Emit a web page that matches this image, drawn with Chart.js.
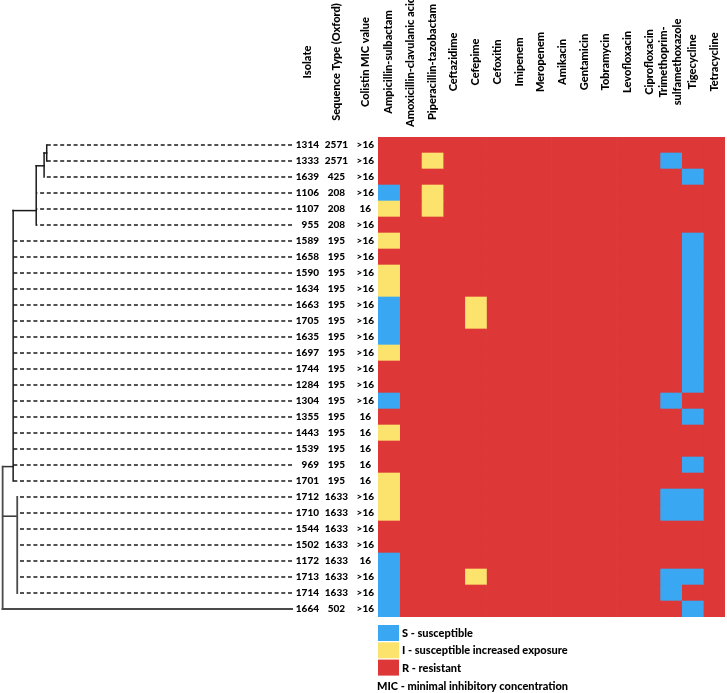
<!DOCTYPE html>
<html>
<head>
<meta charset="utf-8">
<script src="https://cdn.jsdelivr.net/npm/chart.js@4.4.1/dist/chart.umd.min.js"></script>
<style>
  html, body { margin: 0; padding: 0; background: #fff; }
  #wrap { position: relative; width: 727px; height: 693px; }
  #wrap canvas { position: absolute; left: 0; top: 0; }
</style>
</head>
<body>
<div id="wrap">
  <canvas id="heat" width="727" height="693"></canvas>
  <canvas id="tree" width="296" height="693"></canvas>
</div>
<script>
var isolates = ['1314', '1333', '1639', '1106', '1107', '955', '1589', '1658', '1590', '1634',
  '1663', '1705', '1635', '1697', '1744', '1284', '1304', '1355', '1443', '1539',
  '969', '1701', '1712', '1710', '1544', '1502', '1172', '1713', '1714', '1664'];
var sequenceTypes = ['2571', '2571', '425', '208', '208', '208', '195', '195', '195', '195',
  '195', '195', '195', '195', '195', '195', '195', '195', '195', '195',
  '195', '195', '1633', '1633', '1633', '1633', '1633', '1633', '1633', '502'];
var colistinMic = ['>16', '>16', '>16', '>16', '16', '>16', '>16', '>16', '>16', '>16',
  '>16', '>16', '>16', '>16', '>16', '>16', '>16', '16', '16', '16',
  '16', '16', '>16', '>16', '>16', '>16', '16', '>16', '>16', '>16'];
var columnTitles = ['Isolate', 'Sequence Type (Oxford)', 'Colistin MIC value'];
var antibiotics = ['Ampicillin-sulbactam', 'Amoxicillin-clavulanic acid', 'Piperacillin-tazobactam',
  'Ceftazidime', 'Cefepime', 'Cefoxitin', 'Imipenem', 'Meropenem', 'Amikacin', 'Gentamicin',
  'Tobramycin', 'Levofloxacin', 'Ciprofloxacin', ['Trimethoprim-', 'sulfamethoxazole'],
  'Tigecycline', 'Tetracycline'];

// one string per isolate, one letter per antibiotic (same order as above)
var profiles = [
  'RRRR RRRR RRRR RRRR', 'RRIR RRRR RRRR RSRR', 'RRRR RRRR RRRR RRSR', 'SRIR RRRR RRRR RRRR',
  'IRIR RRRR RRRR RRRR', 'RRRR RRRR RRRR RRRR', 'IRRR RRRR RRRR RRSR', 'RRRR RRRR RRRR RRSR',
  'IRRR RRRR RRRR RRSR', 'IRRR RRRR RRRR RRSR', 'SRRR IRRR RRRR RRSR', 'SRRR IRRR RRRR RRSR',
  'SRRR RRRR RRRR RRSR', 'IRRR RRRR RRRR RRSR', 'RRRR RRRR RRRR RRSR', 'RRRR RRRR RRRR RRSR',
  'SRRR RRRR RRRR RSRR', 'RRRR RRRR RRRR RRSR', 'IRRR RRRR RRRR RRRR', 'RRRR RRRR RRRR RRRR',
  'RRRR RRRR RRRR RRSR', 'IRRR RRRR RRRR RRRR', 'IRRR RRRR RRRR RSSR', 'IRRR RRRR RRRR RSSR',
  'RRRR RRRR RRRR RRRR', 'RRRR RRRR RRRR RRRR', 'SRRR RRRR RRRR RRRR', 'SRRR IRRR RRRR RSSR',
  'SRRR RRRR RRRR RSRR', 'SRRR RRRR RRRR RRSR'
].map(function (p) { return p.replace(/ /g, ''); });

var levels = ['S', 'I', 'R'];
var levelNames = ['S - susceptible', 'I - susceptible increased exposure', 'R - resistant'];
var levelColors = ['#39a7f2', '#fbe36d', '#dd3737'];
var footnote = 'MIC - minimal inhibitory concentration';

// dendrogram: height = linkage distance (0 at the leaf tips), kids = rows or node ids,
// joint = row at which the node's branch meets its parent
var treeNodes = [
  { id: 'n1', height: 0.840, kids: [0, 1], joint: 0.5 },
  { id: 'n2', height: 0.849, kids: ['n1', 2], joint: 1.3 },
  { id: 'n3', height: 0.876, kids: ['n2', 3, 4, 5], joint: 4.1 },
  { id: 'n4', height: 0.955, kids: ['n3', 6, 7, 8, 9, 10, 11, 12, 13, 14, 15, 16, 17, 18, 19, 20, 21], joint: 20.1 },
  { id: 'n5', height: 0.941, kids: [22, 23, 24, 25, 26, 27, 28], joint: 23.2 },
  { id: 'root', height: 0.991, kids: ['n4', 'n5', 29], joint: null }
];

var INK = '#000';
Chart.defaults.font.family = 'Lato';
Chart.defaults.color = INK;

var textFont = { family: 'Lato', size: 10, weight: 900 };

function colorOf(letter) {
  return levelColors[levels.indexOf(letter)];
}

var heatSets = antibiotics.map(function (name, c) {
  return {
    label: Array.isArray(name) ? name.join(' ') : name,
    data: isolates.map(function () { return [c, c + 1]; }),
    backgroundColor: profiles.map(function (p) { return colorOf(p[c]); }),
    borderWidth: 0,
    barPercentage: 1,
    categoryPercentage: 1,
    grouped: false
  };
});

function labelAxis(labels, weight, width, align) {
  return {
    type: 'category',
    labels: labels,
    position: 'left',
    offset: true,
    weight: weight,
    grid: { display: false, drawTicks: false },
    border: { display: false },
    ticks: { font: textFont, color: INK, padding: 4, autoSkip: false, crossAlign: align },
    afterFit: function (scale) { scale.width = width; }
  };
}

var headerPlugin = {
  id: 'headers',
  afterDraw: function (chart) {
    var ctx = chart.ctx;
    var area = chart.chartArea;
    var mid = area.top - 75;
    ctx.save();
    ctx.fillStyle = INK;

    // centres of the three text columns
    ctx.font = '900 10px Lato';
    var cols = [[chart.scales.y, isolates], [chart.scales.ySt, sequenceTypes], [chart.scales.yMic, colistinMic]];
    var centers = cols.map(function (c) {
      var w = Math.max.apply(null, c[1].map(function (t) { return ctx.measureText(t).width; }));
      return c[0].right - c[0].options.ticks.padding - w / 2;
    });

    ctx.font = '900 11px Lato';
    ctx.textAlign = 'center';
    ctx.textBaseline = 'middle';
    function vertical(lines, x) {
      ctx.save();
      ctx.translate(x, mid);
      ctx.rotate(-Math.PI / 2);
      lines.forEach(function (t, i) {
        ctx.fillText(t, 0, (i - (lines.length - 1) / 2) * 14);
      });
      ctx.restore();
    }
    columnTitles.forEach(function (t, i) { vertical([t], centers[i]); });
    antibiotics.forEach(function (name, c) {
      vertical(Array.isArray(name) ? name : [name], chart.scales.x.getPixelForValue(c + 0.5));
    });

    // legend
    var top = area.bottom + 8;
    ctx.textAlign = 'left';
    levels.forEach(function (l, i) {
      var y = top + i * 17.3;
      ctx.fillStyle = levelColors[i];
      ctx.fillRect(area.left, y, 21, 16);
      ctx.fillStyle = INK;
      ctx.fillText(levelNames[i], area.left + 24, y + 8.5);
    });
    ctx.fillText(footnote, area.left - 1, top + 3 * 17.3 + 10);
    ctx.restore();
  }
};

new Chart(document.getElementById('heat'), {
  type: 'bar',
  data: { labels: isolates, datasets: heatSets },
  options: {
    indexAxis: 'y',
    responsive: false,
    animation: false,
    layout: { padding: { top: 137, bottom: 76, left: 0, right: 2 } },
    plugins: { legend: { display: false }, tooltip: { enabled: false } },
    scales: {
      x: { type: 'linear', min: 0, max: antibiotics.length, display: false },
      y: labelAxis(isolates, 3, 323, 'near'),
      ySt: labelAxis(sequenceTypes, 2, 29, 'center'),
      yMic: labelAxis(colistinMic, 1, 26, 'center')
    }
  },
  plugins: [headerPlugin]
});

// dendrogram segments
var nodeById = {};
treeNodes.forEach(function (n) { nodeById[n.id] = n; });
function kidRow(k) { return typeof k === 'number' ? k : nodeById[k].joint; }

var treeSets = [];
function segment(x0, y0, x1, y1, style) {
  treeSets.push(Object.assign({
    data: [{ x: x0, y: y0 }, { x: x1, y: y1 }],
    showLine: true,
    pointRadius: 0,
    clip: false,
    borderColor: '#1a1a1a',
    borderWidth: 1.5,
    borderCapStyle: 'square'
  }, style));
}

treeNodes.forEach(function (n) {
  var rows = n.kids.map(kidRow);
  var isRoot = n.joint === null;
  var solidStyle = isRoot || n.id === 'n5' ? { borderColor: '#4a4a4a', borderWidth: 1.8 } : {};
  segment(n.height, Math.min.apply(null, rows), n.height, Math.max.apply(null, rows), solidStyle);
  n.kids.forEach(function (k) {
    if (typeof k === 'number') {
      if (isRoot) {
        segment(0, k, n.height, k, { borderColor: '#4a4a4a', borderWidth: 2 });
      } else {
        segment(0, k, n.height, k, { borderColor: '#1a1a1a', borderWidth: 1.3, borderDash: [4, 2.7], borderCapStyle: 'butt' });
      }
    } else {
      segment(n.height, nodeById[k].joint, nodeById[k].height, nodeById[k].joint, isRoot ? { borderColor: '#333' } : {});
    }
  });
});

new Chart(document.getElementById('tree'), {
  type: 'scatter',
  data: { datasets: treeSets },
  options: {
    responsive: false,
    animation: false,
    layout: { padding: { top: 137, bottom: 76, left: 0, right: 4 } },
    plugins: { legend: { display: false }, tooltip: { enabled: false } },
    scales: {
      x: { type: 'linear', min: 0, max: 1, reverse: true, display: false },
      y: { type: 'linear', min: -0.5, max: isolates.length - 0.5, reverse: true, display: false }
    }
  }
});
</script>
</body>
</html>
